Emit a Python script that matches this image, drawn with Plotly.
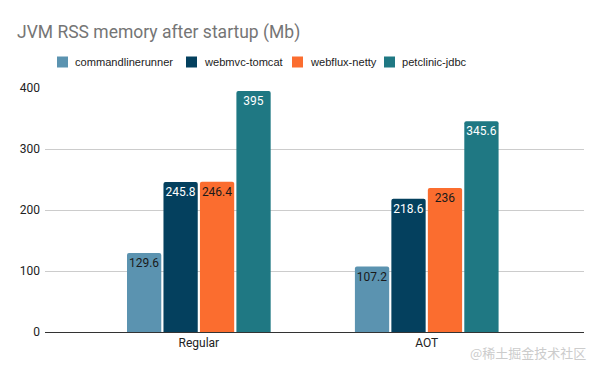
import plotly.graph_objects as go

categories = ["Regular", "AOT"]
series_names = ["commandlinerunner", "webmvc-tomcat", "webflux-netty", "petclinic-jdbc"]
commandlinerunner = [129.6, 107.2]
webmvc_tomcat = [245.8, 218.6]
webflux_netty = [246.4, 236]
petclinic_jdbc = [395, 345.6]
y_ticks = [0, 100, 200, 300, 400]

values = [commandlinerunner, webmvc_tomcat, webflux_netty, petclinic_jdbc]
colors = ["#5b93b0", "#04405e", "#fb6d2f", "#1f7883"]
label_colors = ["#1a1a1a", "#ffffff", "#1a1a1a", "#ffffff"]

W, H = 600, 371
ML, MR, MT, MB = 45, 16, 88, 39
PW, PH = W - ML - MR, H - MT - MB


def px_x(p):
    return (p - ML) / PW


def px_y(p):
    return (H - MB - p) / PH


fig = go.Figure()
for name, vals, c, lc in zip(series_names, values, colors, label_colors):
    fig.add_trace(go.Bar(
        x=categories, y=vals, name=name, marker_color=c,
        marker_line_width=0,
        text=[f"{v:g}" for v in vals], textposition="inside",
        insidetextanchor="end",
        textfont=dict(color=lc, size=12, family="Roboto"),
        textangle=0,
        cliponaxis=False,
        showlegend=False,
    ))

# custom legend (layout positions in pixels)
legend_square_x = [57, 186, 292, 384]
for name, c, sx in zip(series_names, colors, legend_square_x):
    fig.add_shape(type="rect", xref="paper", yref="paper",
                  x0=px_x(sx), x1=px_x(sx + 11), y0=px_y(67.5), y1=px_y(56.5),
                  fillcolor=c, line_width=0)
    fig.add_annotation(text=name, xref="paper", yref="paper",
                       x=px_x(sx + 16), y=px_y(62), xanchor="left", yanchor="middle",
                       showarrow=False,
                       font=dict(family="Liberation Sans", size=11.1, color="#222222"))

fig.update_layout(
    width=W, height=H,
    margin=dict(l=ML, r=MR, t=MT, b=MB, autoexpand=False),
    paper_bgcolor="white", plot_bgcolor="white",
    barmode="group", bargap=0.36, bargroupgap=0.06,
    barcornerradius=2,
    uniformtext=dict(minsize=12, mode="show"),
    title=dict(text="JVM RSS memory after startup (Mb)", x=17 / W, xanchor="left",
               xref="container", yref="container",
               y=1 - 32 / H, yanchor="middle",
               font=dict(family="Roboto", size=17.5, color="#757575")),
    font=dict(family="Roboto", size=12, color="#222222"),
    xaxis=dict(range=[-0.675, 1.69], showgrid=False, showline=True, linecolor="#333333",
               linewidth=1, ticks="", tickfont=dict(size=12, color="#222222")),
    yaxis=dict(range=[0, 400], tickvals=y_ticks, showgrid=True, gridcolor="#cccccc",
               zeroline=False, ticks="", ticklabelstandoff=4,
               tickfont=dict(size=12, color="#222222")),
    showlegend=False,
)

fig.add_annotation(text="@稀土掘金技术社区", xref="paper", yref="paper",
                   x=px_x(588), y=px_y(352), xanchor="right", yanchor="middle", showarrow=False,
                   font=dict(family="Noto Sans CJK SC", size=13, color="#cccccc"))

fig.write_html("out.html", config={"displayModeBar": False},
               post_script="document.body.style.margin='0';")
